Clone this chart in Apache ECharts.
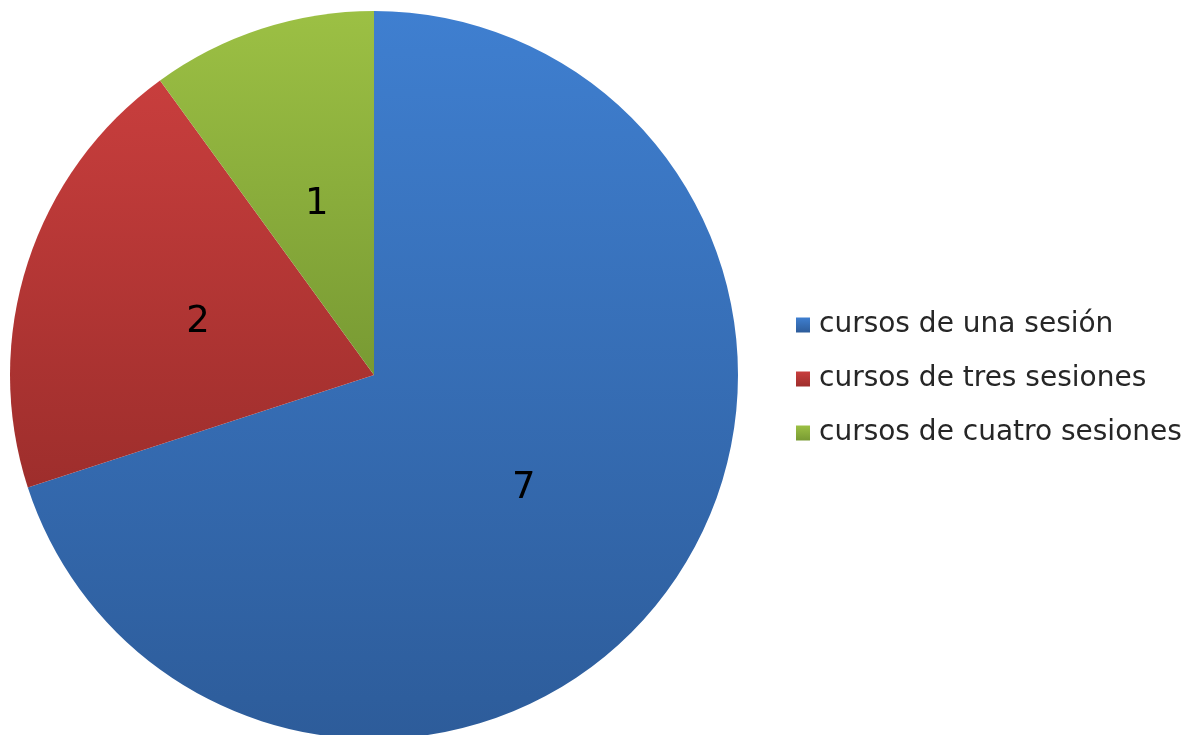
<!DOCTYPE html>
<html>
<head>
<meta charset="utf-8">
<script src="https://cdn.jsdelivr.net/npm/echarts@6/dist/echarts.min.js"></script>
<style>
html,body{margin:0;padding:0;background:#fff;}
#chart{width:1190px;height:735px;}
</style>
</head>
<body>
<div id="chart"></div>
<script>
var categories = ['cursos de una sesión', 'cursos de tres sesiones', 'cursos de cuatro sesiones'];
var values = [7, 2, 1];
var topColors = ['#3f7fd0', '#c83e3d', '#9cc044'];
var bottomColors = ['#2d5c9a', '#9e2e2c', '#789a33'];

var chart = echarts.init(document.getElementById('chart'));
var data = categories.map(function (name, i) {
  return {
    name: name,
    value: values[i],
    itemStyle: {
      color: new echarts.graphic.LinearGradient(0, 0, 0, 1, [
        { offset: 0, color: topColors[i] },
        { offset: 1, color: bottomColors[i] }
      ])
    }
  };
});
chart.setOption({
  animation: false,
  backgroundColor: '#ffffff',
  color: ['#3b74c0', '#b83636', '#8cad3c'],
  legend: {
    orient: 'vertical',
    left: 791,
    top: 306,
    itemWidth: 14,
    itemHeight: 15,
    itemGap: 26,
    icon: 'rect',
    textStyle: { fontFamily: 'DejaVu Sans', fontSize: 28, color: '#262626', padding: [0, 0, 0, 4] },
    data: categories
  },
  series: [{
    type: 'pie',
    center: [374, 375],
    radius: 364,
    startAngle: 90,
    clockwise: true,
    label: {
      show: true,
      position: 'inside',
      formatter: '{c}',
      fontFamily: 'DejaVu Sans',
      fontSize: 37,
      color: '#000000',
      offset: [0, 5]
    },
    labelLine: { show: false },
    emphasis: { disabled: true },
    data: data
  }]
});
</script>
</body>
</html>
